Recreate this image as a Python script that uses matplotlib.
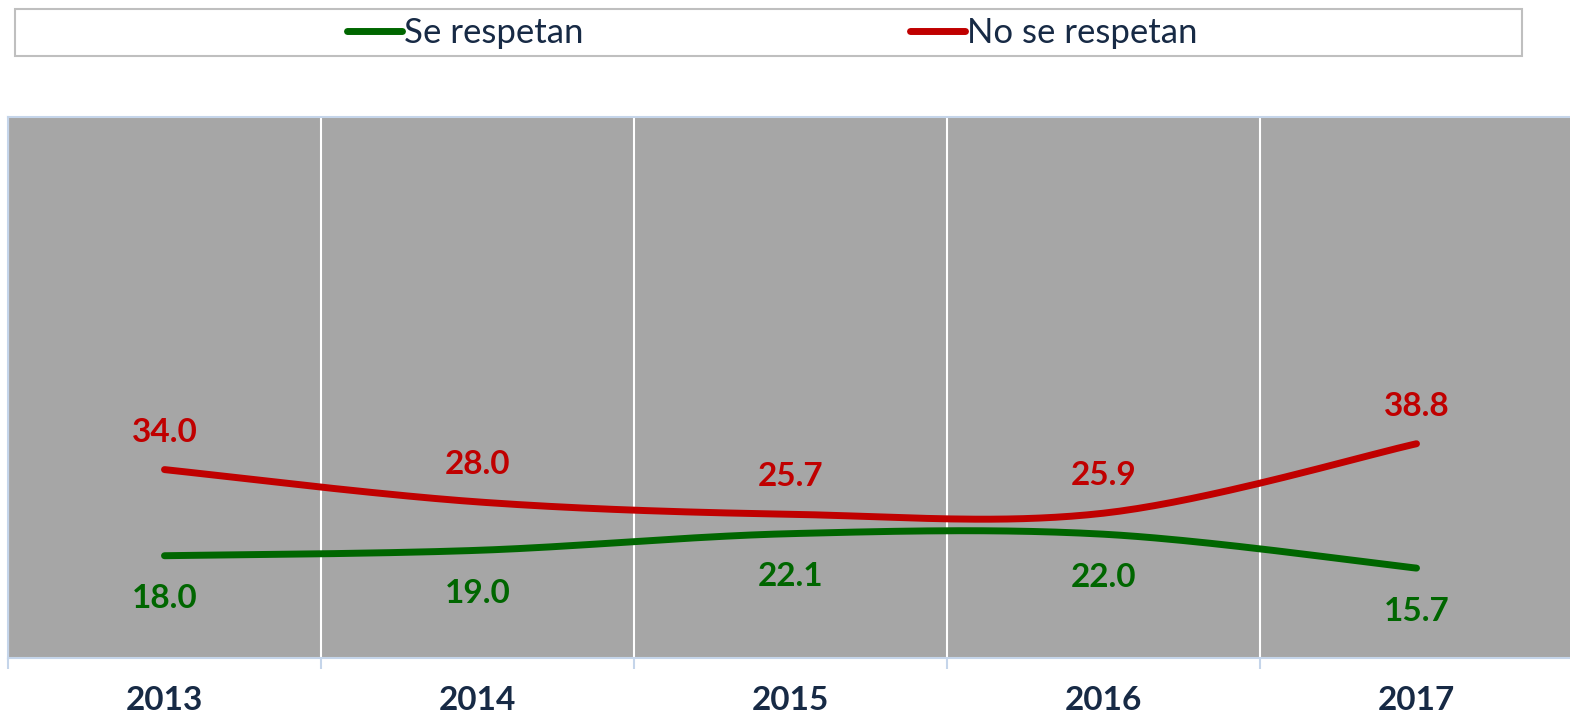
import matplotlib.pyplot as plt
import numpy as np
from matplotlib.patches import Rectangle

years = ["2013", "2014", "2015", "2016", "2017"]
se_respetan = [18.0, 19.0, 22.1, 22.0, 15.7]
no_se_respetan = [34.0, 28.0, 25.7, 25.9, 38.8]

GREEN = "#006600"
RED = "#C00000"
NAVY = "#172A45"
AXIS_BLUE = "#C5D5EA"

plt.rcParams["font.family"] = ["Lato", "DejaVu Sans"]


def smooth(x, y, n=40):
    # Catmull-Rom style bezier, like spreadsheet "smoothed line"
    x = np.asarray(x, float)
    y = np.asarray(y, float)
    px = np.concatenate([[x[0]], x, [x[-1]]])
    py = np.concatenate([[y[0]], y, [y[-1]]])
    xs, ys = [], []
    t = np.linspace(0, 1, n)
    for i in range(1, len(x)):
        p0 = np.array([px[i], py[i]])
        p3 = np.array([px[i + 1], py[i + 1]])
        c1 = p0 + (p3 - np.array([px[i - 1], py[i - 1]])) / 6
        c2 = p3 - (np.array([px[i + 2], py[i + 2]]) - p0) / 6
        b = ((1 - t) ** 3)[:, None] * p0 + (3 * (1 - t) ** 2 * t)[:, None] * c1 \
            + (3 * (1 - t) * t ** 2)[:, None] * c2 + (t ** 3)[:, None] * p3
        xs.append(b[:, 0])
        ys.append(b[:, 1])
    return np.concatenate(xs), np.concatenate(ys)


fig = plt.figure(figsize=(15.7, 7.14), dpi=100)
ax = fig.add_axes([8 / 1570, 56 / 714, 1565 / 1570, 541 / 714])
ax.set_facecolor("#A6A6A6")

x = np.arange(len(years))
for vals, color, label in [(se_respetan, GREEN, "Se respetan"),
                           (no_se_respetan, RED, "No se respetan")]:
    sx, sy = smooth(x, vals)
    ax.plot(sx, sy, color=color, lw=5, solid_capstyle="round", label=label)

for i, v in enumerate(no_se_respetan):
    ax.annotate(f"{v:.1f}", (i, v), xytext=(0, 27), textcoords="offset points",
                ha="center", va="center", color=RED, fontsize=24, fontweight="bold")
for i, v in enumerate(se_respetan):
    ax.annotate(f"{v:.1f}", (i, v), xytext=(0, -31), textcoords="offset points",
                ha="center", va="center", color=GREEN, fontsize=24, fontweight="bold")

ax.set_xlim(-0.5, len(years) - 0.5)
ax.set_ylim(-1, 99.5)
ax.set_yticks([])
ax.set_xticks(x)
ax.set_xticklabels(years, fontsize=24, fontweight="bold", color=NAVY)
ax.set_xticks(np.arange(-0.5, len(years)), minor=True)
ax.tick_params(axis="x", which="major", length=0, pad=20)
ax.tick_params(axis="x", which="minor", length=8, width=1.5, color=AXIS_BLUE)
ax.grid(axis="x", which="minor", color="white", lw=1.5)
for side in ["left", "top", "bottom"]:
    ax.spines[side].set_color(AXIS_BLUE)
    ax.spines[side].set_linewidth(1.5)
ax.spines["right"].set_visible(False)

fig.patches.append(Rectangle((15 / 1570, 1 - 56 / 714), 1507 / 1570, 47 / 714,
                             transform=fig.transFigure, fill=False,
                             edgecolor="#BFBFBF", lw=1.5))
leg = fig.legend(loc="center", bbox_to_anchor=(772 / 1570, 1 - 33 / 714), ncol=2,
                 frameon=False, fontsize=25, handlelength=1.6, handletextpad=0.05,
                 columnspacing=9.4)
for t in leg.get_texts():
    t.set_color(NAVY)

fig.savefig("out.png", dpi=100)
